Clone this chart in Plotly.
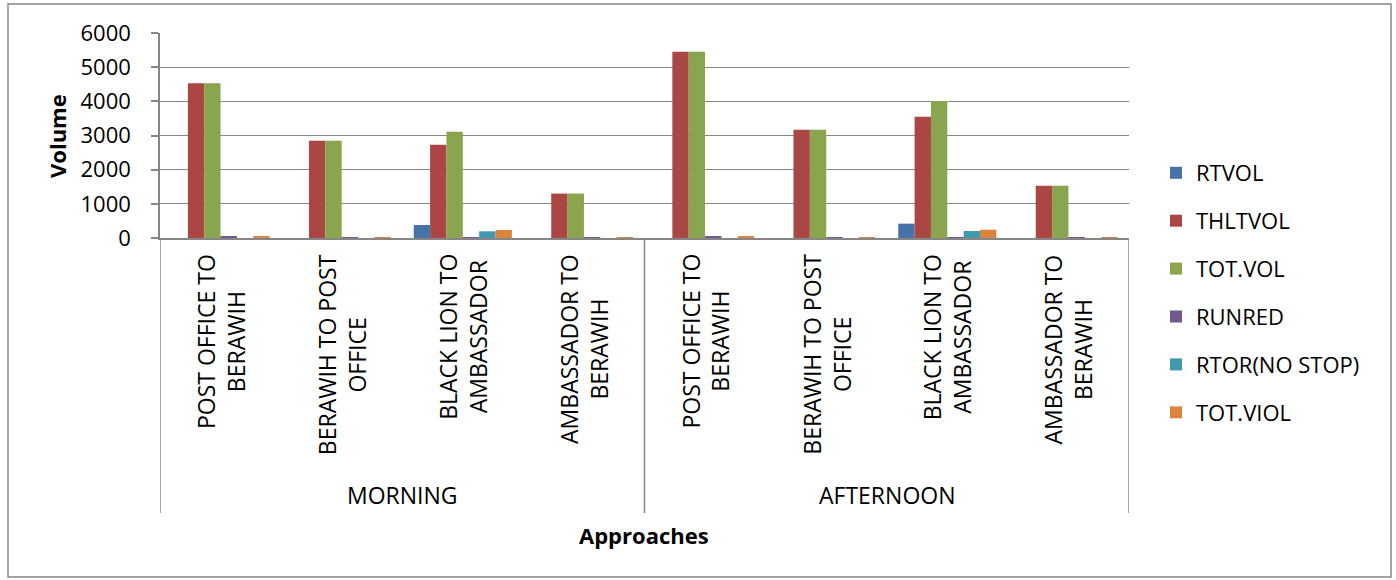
import plotly.graph_objects as go

# Approaches observed in each period
periods = ["MORNING", "AFTERNOON"]
approaches = [
    "POST OFFICE TO BERAWIH",
    "BERAWIH TO POST OFFICE",
    "BLACK LION TO AMBASSADOR",
    "AMBASSADOR TO BERAWIH",
]
approach_labels = [
    "POST OFFICE TO<br>BERAWIH",
    "BERAWIH TO POST<br>OFFICE",
    "BLACK LION TO<br>AMBASSADOR",
    "AMBASSADOR TO<br>BERAWIH",
]

# Counts per approach: morning block followed by afternoon block
rtvol = [0, 0, 380, 0, 0, 0, 420, 0]
thltvol = [4530, 2850, 2730, 1300, 5450, 3170, 3550, 1530]
tot_vol = [4530, 2850, 3110, 1300, 5450, 3170, 4000, 1530]
runred = [50, 5, 15, 5, 40, 3, 10, 3]
rtor = [0, 0, 195, 0, 0, 0, 205, 0]
tot_viol = [50, 8, 235, 8, 40, 5, 243, 5]

series = [
    ("RTVOL", rtvol, "#4572A7"),
    ("THLTVOL", thltvol, "#AA4643"),
    ("TOT.VOL", tot_vol, "#89A54E"),
    ("RUNRED", runred, "#71588F"),
    ("RTOR(NO STOP)", rtor, "#4198AF"),
    ("TOT.VIOL", tot_viol, "#DB843D"),
]

# unique category keys (period + approach)
keys = [f"{p} | {a}" for p in periods for a in approaches]

W, H = 1396, 580
L, R, T, B = 160, 267, 33, 342
pw, ph = W - L - R, H - T - B


def px_x(px):
    return (px - L) / pw


def px_y(py):
    return (H - B - py) / ph


FONT = "Open Sans"
GRAY = "#868686"

fig = go.Figure()
for name, vals, color in series:
    fig.add_trace(go.Bar(
        x=keys, y=vals, name=name, legendgroup=name,
        marker=dict(color=color, line=dict(width=0)),
    ))

annotations = []
# inner category labels, rotated
for i, key in enumerate(keys):
    annotations.append(dict(
        x=key, xref="x", y=px_y(252), yref="paper",
        text=approach_labels[i % 4], textangle=-90,
        showarrow=False, xanchor="center", yanchor="top", align="center",
        font=dict(family=FONT, size=23, color="#000000"),
    ))
# period labels
for j, p in enumerate(periods):
    annotations.append(dict(
        x=1.5 + 4 * j, xref="x", y=px_y(495), yref="paper",
        text=p, showarrow=False, xanchor="center", yanchor="middle",
        font=dict(family=FONT, size=23, color="#000000"),
    ))
# axis titles
annotations.append(dict(
    x=px_x(644), xref="paper", y=px_y(535), yref="paper",
    text="<b>Approaches</b>", showarrow=False, xanchor="center", yanchor="middle",
    font=dict(family=FONT, size=22, color="#000000"),
))
annotations.append(dict(
    x=px_x(57), xref="paper", y=px_y(136), yref="paper",
    text="<b>Volume</b>", textangle=-90, showarrow=False,
    xanchor="center", yanchor="middle",
    font=dict(family=FONT, size=22, color="#000000"),
))

shapes = []
# group dividers below the category axis
for xb in [-0.5, 3.5, 7.5]:
    shapes.append(dict(
        type="line", xref="x", yref="paper",
        x0=xb, x1=xb, y0=0, y1=px_y(513),
        line=dict(color=GRAY, width=1.5),
    ))
# chart frame
shapes.append(dict(
    type="rect", xref="paper", yref="paper",
    x0=px_x(8), x1=px_x(1391), y0=px_y(4), y1=px_y(577),
    line=dict(color=GRAY, width=1.5), fillcolor="rgba(0,0,0,0)", layer="below",
))

fig.update_layout(
    width=W, height=H,
    margin=dict(l=L, r=R, t=T, b=B, pad=0),
    paper_bgcolor="white", plot_bgcolor="white",
    barmode="group", bargap=0.19, bargroupgap=0,
    font=dict(family=FONT, size=22, color="#000000"),
    showlegend=True,
    legend=dict(
        x=px_x(1156), xanchor="left", y=px_y(152), yanchor="top",
        font=dict(family=FONT, size=22, color="#000000"),
        tracegroupgap=16.3, itemwidth=30, bgcolor="rgba(0,0,0,0)",
        maxheight=600,
    ),
    annotations=annotations,
    shapes=shapes,
)
fig.update_xaxes(
    type="category", range=[-0.5, 7.5], showticklabels=False,
    showline=True, linecolor=GRAY, linewidth=1.5, ticks="", showgrid=False,
    zeroline=False,
)
fig.update_yaxes(
    range=[0, 6000], dtick=1000, showgrid=True, gridcolor=GRAY, gridwidth=1.3,
    showline=True, linecolor=GRAY, linewidth=1.5,
    ticks="outside", ticklen=7, tickcolor=GRAY, tickwidth=1.5,
    ticklabelstandoff=16, zeroline=False,
    tickfont=dict(family=FONT, size=22, color="#000000"),
)

fig.write_html("out.html")
